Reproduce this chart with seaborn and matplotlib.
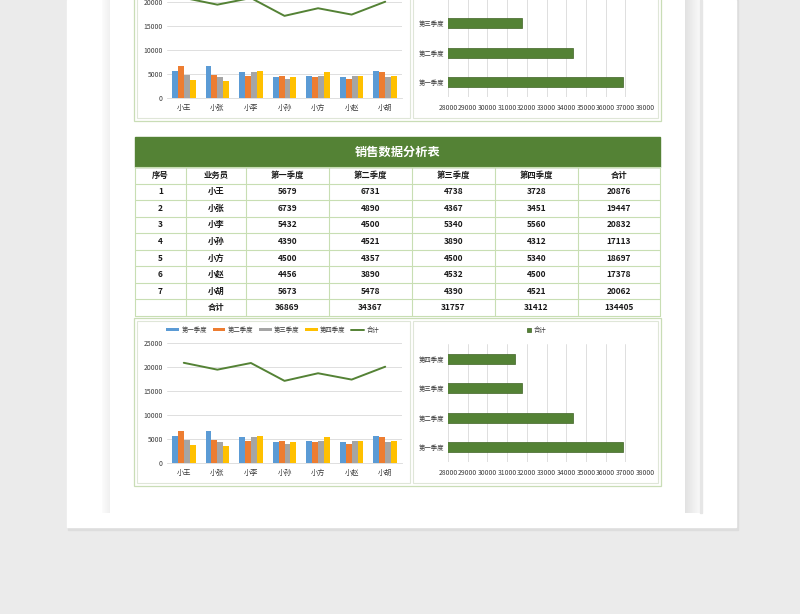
import numpy as np
import pandas as pd
import matplotlib
matplotlib.use("Agg")
import matplotlib.pyplot as plt
from matplotlib.patches import Rectangle
from matplotlib.colors import LinearSegmentedColormap
import seaborn as sns

# data read from the sheet
names = ["小王", "小张", "小李", "小孙", "小方", "小赵", "小胡"]
quarters = ["第一季度", "第二季度", "第三季度", "第四季度"]
q1 = [5679, 6739, 5432, 4390, 4500, 4456, 5673]
q2 = [6731, 4890, 4500, 4521, 4357, 3890, 5478]
q3 = [4738, 4367, 5340, 3890, 4500, 4532, 4390]
q4 = [3728, 3451, 5560, 4312, 5340, 4500, 4521]
person_total = [20876, 19447, 20832, 17113, 18697, 17378, 20062]
quarter_total = [36869, 34367, 31757, 31412]
grand_total = 134405
headers = ["序号", "业务员", "第一季度", "第二季度", "第三季度", "第四季度", "合计"]
title = "销售数据分析表"

W, H = 800, 614
GREEN = "#548235"
QCOLORS = ["#5b9bd5", "#ed7d31", "#a5a5a5", "#ffc000"]
GRID = "#d9d9d9"
TABLE_LINE = "#c8deb3"
TICK = "#3a3a3a"

sns.set_theme(style="white")
plt.rcParams["font.family"] = ["Noto Sans CJK SC", "DejaVu Sans"]
plt.rcParams["axes.unicode_minus"] = False

long_df = pd.DataFrame({"name": names, "第一季度": q1, "第二季度": q2,
                        "第三季度": q3, "第四季度": q4})
long_df = long_df.melt(id_vars="name", var_name="quarter", value_name="value")
qdf = pd.DataFrame({"quarter": quarters, "total": quarter_total})


def box(x0, y0, x1, y1):
    # pixel box (top-left origin) -> figure fraction rect
    return [x0 / W, 1 - y1 / H, (x1 - x0) / W, (y1 - y0) / H]


fig = plt.figure(figsize=(8, 6.14), dpi=100, facecolor="#ebebeb")
bg = fig.add_axes([0, 0, 1, 1], zorder=0)
bg.axis("off")

# page and the stacked sheet shadows
bg.add_patch(Rectangle((68, 0), 670, 530, color="#dddddd", zorder=0))
bg.add_patch(Rectangle((67, 0), 669, 527, color="white", zorder=1))
grad = np.linspace(0, 1, 60).reshape(1, -1)
bg.imshow(grad, extent=(685, 700, 513, 0), aspect="auto", zorder=2,
          cmap=LinearSegmentedColormap.from_list("r", ["#e2e2e2", "#f9f9f9"]))
bg.add_patch(Rectangle((700, 0), 1.5, 513, color="#e6e6e6", zorder=2))
bg.imshow(grad, extent=(102, 110, 513, 0), aspect="auto", zorder=2,
          cmap=LinearSegmentedColormap.from_list("l", ["#fcfcfc", "#f0f0f0"]))

# chart frames (top pair is the previous page, shifted up)
for off in (0, -365):
    bg.add_patch(Rectangle((134, 318 + off), 527, 168, fill=False,
                           ec="#c9ddb6", lw=0.9, zorder=3))
    bg.add_patch(Rectangle((137, 321 + off), 273, 162, fc="white",
                           ec="#dfe6d8", lw=0.8, zorder=3))
    bg.add_patch(Rectangle((413, 321 + off), 245, 162, fc="white",
                           ec="#dfe6d8", lw=0.8, zorder=3))

# table
cols = [135, 186, 246, 329, 412, 495, 578, 660]
row_h = (316 - 167) / 9
bg.add_patch(Rectangle((135, 137), 525, 30, color=GREEN, zorder=4))
bg.text(397.5, 152, title, color="white", fontsize=8.8, fontweight="bold",
        ha="center", va="center", zorder=5)
rows = [headers]
for i in range(len(names)):
    rows.append([str(i + 1), names[i], str(q1[i]), str(q2[i]), str(q3[i]),
                 str(q4[i]), str(person_total[i])])
rows.append(["", "合计"] + [str(v) for v in quarter_total] + [str(grand_total)])
for r, row in enumerate(rows):
    yc = 167 + row_h * (r + 0.5)
    for c, val in enumerate(row):
        bg.text((cols[c] + cols[c + 1]) / 2, yc, val, fontsize=6,
                fontweight="bold", color="#1a1a1a", ha="center", va="center",
                zorder=5)
for r in range(10):
    y = 167 + row_h * r
    bg.plot([135, 660], [y, y], color=TABLE_LINE, lw=0.8, zorder=4)
for x in cols:
    bg.plot([x, x], [167, 316], color=TABLE_LINE, lw=0.8, zorder=4)

bg.set_xlim(0, W)
bg.set_ylim(H, 0)


def combo_chart(off):
    ax = fig.add_axes(box(167, 343 + off, 402, 463 + off), zorder=5)
    ax.set_facecolor("none")
    sns.barplot(data=long_df, x="name", y="value", hue="quarter",
                palette=QCOLORS, saturation=1, width=0.7, errorbar=None,
                linewidth=0, ax=ax)
    sns.lineplot(x=names, y=person_total, color=GREEN, lw=1.4, sort=False,
                 label="合计", ax=ax)
    ax.set_xlim(-0.5, 6.5)
    ax.set_ylim(0, 25000)
    ax.set_yticks(range(0, 25001, 5000))
    ax.yaxis.grid(True, color=GRID, lw=0.6)
    ax.set_axisbelow(True)
    for s in ["top", "right", "left"]:
        ax.spines[s].set_visible(False)
    ax.spines["bottom"].set_color(GRID)
    ax.spines["bottom"].set_linewidth(0.6)
    ax.tick_params(axis="y", length=0, labelsize=4.9, colors=TICK, pad=3)
    ax.tick_params(axis="x", length=0, labelsize=5.2, colors=TICK, pad=4)
    ax.set_xlabel("")
    ax.set_ylabel("")
    ax.legend(ncol=5, loc="center", bbox_to_anchor=(0.45, 1.11),
              frameon=False, fontsize=4.6, handlelength=2.0, handleheight=0.5,
              columnspacing=0.9, handletextpad=0.35, borderaxespad=0,
              labelcolor=TICK)
    return ax


def quarter_chart(off):
    ax = fig.add_axes(box(448, 344 + off, 645, 462 + off), zorder=5)
    ax.set_facecolor("none")
    sns.barplot(data=qdf, x="total", y="quarter", order=quarters[::-1],
                color=GREEN, saturation=1, width=0.33, edgecolor="#3f6426",
                linewidth=0.5, errorbar=None, label="合计", ax=ax)
    ax.set_xlim(28000, 38000)
    ax.set_xticks(range(28000, 38001, 1000))
    ax.xaxis.grid(True, color=GRID, lw=0.6)
    ax.set_axisbelow(True)
    for s in ax.spines.values():
        s.set_visible(False)
    ax.tick_params(axis="x", length=0, labelsize=4.9, colors=TICK, pad=5)
    ax.tick_params(axis="y", length=0, labelsize=4.6, colors=TICK, pad=3)
    ax.set_xlabel("")
    ax.set_ylabel("")
    ax.legend(loc="center", bbox_to_anchor=(0.45, 1.12), frameon=False,
              fontsize=4.6, handlelength=0.6, handleheight=0.6,
              handletextpad=0.4, borderaxespad=0, labelcolor=TICK)
    return ax


for off in (0, -365):
    combo_chart(off)
    quarter_chart(off)

fig.savefig("out.png", dpi=100, facecolor=fig.get_facecolor())
